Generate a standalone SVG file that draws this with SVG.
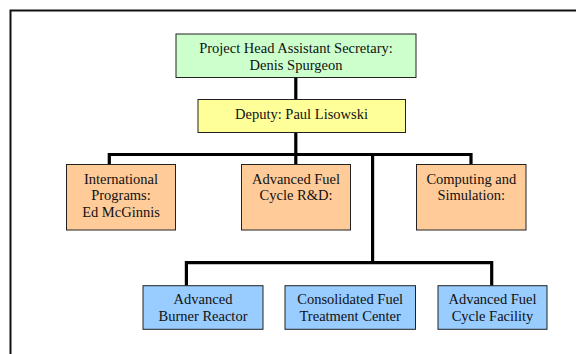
<svg xmlns="http://www.w3.org/2000/svg" width="576" height="354" viewBox="0 0 576 354">
<style>
.box{stroke:#222;stroke-width:1}
.g{fill:#CCFFCC}.y{fill:#FFFF99}.o{fill:#FFCC99}.b{fill:#99CCFF}
text{font-family:"Liberation Serif","Times New Roman",serif;font-size:14.5px;fill:#111;text-anchor:middle}
.conn{fill:none;stroke:#000;stroke-width:3.2;stroke-linejoin:miter;stroke-linecap:butt}
</style>
<rect width="576" height="354" fill="#fff"/>
<path d="M10.5,354 V10.5 H576" fill="none" stroke="#111" stroke-width="2"/>
<g id="connectors" class="conn">
<path d="M295.8,77.5 V99.5"/>
<path d="M295.8,132.5 V164.5"/>
<path d="M109.3,164.5 V154.5 H471 V164.5"/>
<path d="M372.6,154.5 V262.7"/>
<path d="M186.4,285.7 V262.7 H491.7 V285.7"/>
</g>
<g id="head">
<rect class="box g" x="176" y="34" width="240" height="43.5"/>
<text x="296" y="52.5">Project Head Assistant Secretary:</text>
<text x="296" y="69.5">Denis Spurgeon</text>
</g>
<g id="deputy">
<rect class="box y" x="198" y="99.5" width="207.5" height="33"/>
<text x="301.5" y="118.5">Deputy: Paul Lisowski</text>
</g>
<g id="intl">
<rect class="box o" x="66.5" y="164.5" width="109" height="65.5"/>
<text x="121" y="184">International</text>
<text x="121" y="200.3">Programs:</text>
<text x="121" y="216.6">Ed McGinnis</text>
</g>
<g id="afc">
<rect class="box o" x="241.5" y="164.5" width="109" height="65.5"/>
<text x="296" y="184">Advanced Fuel</text>
<text x="296" y="200.3">Cycle R&amp;D:</text>
</g>
<g id="computing">
<rect class="box o" x="416.5" y="164.5" width="109.5" height="65.5"/>
<text x="471.3" y="184">Computing and</text>
<text x="471.3" y="200.3">Simulation:</text>
</g>
<g id="abr">
<rect class="box b" x="143" y="285.7" width="120" height="43.6"/>
<text x="203" y="304">Advanced</text>
<text x="203" y="320.5">Burner Reactor</text>
</g>
<g id="cftc">
<rect class="box b" x="285" y="285.7" width="130.5" height="43.6"/>
<text x="350.2" y="304">Consolidated Fuel</text>
<text x="350.2" y="320.5">Treatment Center</text>
</g>
<g id="afcf">
<rect class="box b" x="438" y="285.7" width="109" height="43.6"/>
<text x="492.5" y="304">Advanced Fuel</text>
<text x="492.5" y="320.5">Cycle Facility</text>
</g>
</svg>
